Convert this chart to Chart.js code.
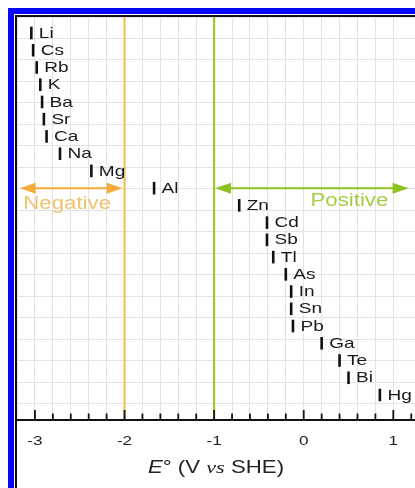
<!DOCTYPE html>
<html>
<head>
<meta charset="utf-8">
<script src="https://cdn.jsdelivr.net/npm/chart.js@4.4.1/dist/chart.umd.min.js"></script>
<style>
  html, body { margin: 0; padding: 0; background: #fff; }
  canvas { display: block; }
</style>
</head>
<body>
<canvas id="c" width="415" height="488"></canvas>
<script>
// ---- data ----
const elements = ['Li','Cs','Rb','K','Ba','Sr','Ca','Na','Mg','Al','Zn','Cd','Sb','Tl','As','In','Sn','Pb','Ga','Te','Bi','Hg'];
const potentials = [-3.04,-3.02,-2.98,-2.94,-2.92,-2.90,-2.87,-2.72,-2.37,-1.67,-0.72,-0.41,-0.41,-0.34,-0.20,-0.14,-0.14,-0.12,0.20,0.40,0.50,0.85];
const xTickValues = [-3, -2, -1, 0, 1];
const xTickLabels = ['-3', '-2', '-1', '0', '1'];
const boundaries = [-2, -1];
const regionLabels = ['Negative', 'Positive'];
const regionLabelX = [-2.64, 0.51];
const regionLabelRow = [9.92, 9.75];
const arrowSpans = [[-3.17, -2.02], [-0.99, 1.17]];
const arrowRow = 9;

// ---- styles ----
const SX = 1.27; // horizontal text stretch
const ORANGE = { line: '#f3bf5f', arrow: '#f5ab3a', text: '#efc46f' };
const GREEN = { line: '#9dcb2d', arrow: '#8dc21f', text: '#a6cf48' };
const themes = [ORANGE, GREEN];

function sText(ctx, str, x, y, font, color, align) {
  ctx.save();
  ctx.translate(x, y);
  ctx.scale(SX, 1);
  ctx.font = font;
  ctx.fillStyle = color;
  ctx.textAlign = align || 'left';
  ctx.textBaseline = 'middle';
  ctx.fillText(str, 0, 0);
  ctx.restore();
}

const framePlugin = {
  id: 'frame',
  beforeDraw(chart) {
    const ctx = chart.ctx;
    ctx.save();
    ctx.fillStyle = '#fff';
    ctx.fillRect(0, 0, chart.width, chart.height);
    ctx.fillStyle = '#0606f8';
    ctx.fillRect(8, 8, chart.width - 8, 6);
    ctx.fillRect(8, 8, 6, chart.height - 8);
    ctx.fillStyle = '#111';
    ctx.fillRect(15, 15, chart.width - 15, 2);
    ctx.fillRect(15, 15, 2, chart.height - 15);
    ctx.restore();
  }
};

function arrow(ctx, x1, x2, y, color) {
  const L = 16, H = 5.5;
  ctx.strokeStyle = color;
  ctx.fillStyle = color;
  ctx.lineWidth = 2;
  ctx.beginPath();
  ctx.moveTo(x1 + L - 2, y);
  ctx.lineTo(x2 - L + 2, y);
  ctx.stroke();
  ctx.beginPath();
  ctx.moveTo(x1, y); ctx.lineTo(x1 + L, y - H); ctx.lineTo(x1 + L, y + H); ctx.closePath(); ctx.fill();
  ctx.beginPath();
  ctx.moveTo(x2, y); ctx.lineTo(x2 - L, y - H); ctx.lineTo(x2 - L, y + H); ctx.closePath(); ctx.fill();
}

const decoPlugin = {
  id: 'deco',
  beforeDatasetsDraw(chart) {
    const ctx = chart.ctx, xs = chart.scales.x, ys = chart.scales.y, a = chart.chartArea;
    ctx.save();
    boundaries.forEach((b, i) => {
      const px = xs.getPixelForValue(b);
      ctx.strokeStyle = themes[i].line;
      ctx.lineWidth = 2.2;
      ctx.beginPath();
      ctx.moveTo(px, a.top);
      ctx.lineTo(px, a.bottom);
      ctx.stroke();
    });
    arrowSpans.forEach((s, i) => {
      arrow(ctx, xs.getPixelForValue(s[0]), xs.getPixelForValue(s[1]), ys.getPixelForValue(arrowRow), themes[i].arrow);
    });
    regionLabels.forEach((t, i) => {
      sText(ctx, t, xs.getPixelForValue(regionLabelX[i]), ys.getPixelForValue(regionLabelRow[i]),
        '17.5px "Liberation Sans", Arial, sans-serif', themes[i].text, 'center');
    });
    ctx.restore();
  },
  afterDatasetsDraw(chart) {
    const ctx = chart.ctx, xs = chart.scales.x, a = chart.chartArea;
    const meta = chart.getDatasetMeta(0);
    ctx.save();
    meta.data.forEach((pt, i) => {
      sText(ctx, elements[i], pt.x + 7.5, pt.y + 0.5, '15px "Liberation Sans", Arial, sans-serif', '#1a1a1a', 'left');
    });
    // x axis line
    ctx.strokeStyle = '#111';
    ctx.lineWidth = 2;
    ctx.beginPath();
    ctx.moveTo(a.left, a.bottom);
    ctx.lineTo(a.right, a.bottom);
    ctx.stroke();
    // tick marks (inward)
    ctx.lineWidth = 1.8;
    for (let k = 0; k <= 21; k++) {
      const v = -3 + k * 0.2;
      const px = xs.getPixelForValue(v);
      const major = k % 5 === 0;
      ctx.beginPath();
      ctx.moveTo(px, a.bottom);
      ctx.lineTo(px, a.bottom - (major ? 10 : 6.5));
      ctx.stroke();
    }
    // tick labels
    xTickValues.forEach((v, i) => {
      sText(ctx, xTickLabels[i], xs.getPixelForValue(v), a.bottom + 21, '13.5px "Liberation Sans", Arial, sans-serif', '#222', 'center');
    });
    // axis title: E° (V vs SHE)
    const parts = [
      ['E', 'italic 17.5px "Liberation Sans", Arial, sans-serif'],
      ['° (V ', '17.5px "Liberation Sans", Arial, sans-serif'],
      ['vs', 'italic 17.5px "Liberation Serif", "Times New Roman", serif'],
      [' SHE)', '17.5px "Liberation Sans", Arial, sans-serif']
    ];
    let total = 0;
    parts.forEach(p => { ctx.font = p[1]; p.w = ctx.measureText(p[0]).width; total += p.w; });
    const cx = 216, cy = a.bottom + 48;
    ctx.save();
    ctx.translate(cx, cy);
    ctx.scale(SX, 1);
    ctx.textBaseline = 'middle';
    ctx.textAlign = 'left';
    ctx.fillStyle = '#222';
    let x = -total / 2;
    parts.forEach(p => { ctx.font = p[1]; ctx.fillText(p[0], x, 0); x += p.w; });
    ctx.restore();
    ctx.restore();
  }
};

new Chart(document.getElementById('c'), {
  type: 'scatter',
  data: {
    datasets: [{
      data: potentials.map((v, i) => ({ x: v, y: i })),
      pointStyle: 'line',
      rotation: 90,
      radius: 6.3,
      hoverRadius: 6.3,
      borderWidth: 2.6,
      borderColor: '#111',
      backgroundColor: '#111'
    }]
  },
  plugins: [framePlugin, decoPlugin],
  options: {
    responsive: false,
    animation: false,
    devicePixelRatio: 1,
    layout: { autoPadding: false, padding: { left: 17, top: 17, right: 0, bottom: 68 } },
    plugins: { legend: { display: false }, tooltip: { enabled: false } },
    scales: {
      x: {
        type: 'linear',
        min: -3.2,
        max: 1.242,
        ticks: { display: false, stepSize: 0.2 },
        grid: { color: '#e3e3e3', lineWidth: 1, drawTicks: false },
        border: { display: false }
      },
      y: {
        type: 'linear',
        reverse: true,
        min: -0.928,
        max: 22.45,
        display: false
      },
      yg: {
        type: 'linear',
        position: 'left',
        reverse: true,
        min: 0,
        max: 18.75,
        ticks: { display: false, stepSize: 1 },
        grid: { color: '#e3e3e3', lineWidth: 1, drawTicks: false },
        border: { display: false }
      }
    }
  }
});
</script>
</body>
</html>
